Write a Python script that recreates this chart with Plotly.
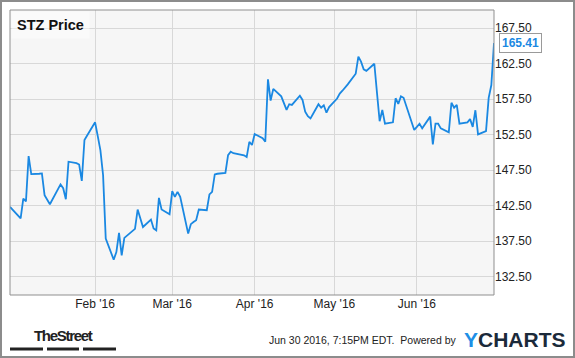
import plotly.graph_objects as go

dates = [
    "2015-12-31",
    "2016-01-04", "2016-01-05", "2016-01-06", "2016-01-07", "2016-01-08",
    "2016-01-11", "2016-01-12", "2016-01-13", "2016-01-14", "2016-01-15",
    "2016-01-19", "2016-01-20", "2016-01-21", "2016-01-22",
    "2016-01-25", "2016-01-26", "2016-01-27", "2016-01-28", "2016-01-29",
    "2016-02-01", "2016-02-02", "2016-02-03", "2016-02-04", "2016-02-05",
    "2016-02-08", "2016-02-09", "2016-02-10", "2016-02-11", "2016-02-12",
    "2016-02-16", "2016-02-17", "2016-02-18", "2016-02-19",
    "2016-02-22", "2016-02-23", "2016-02-24", "2016-02-25", "2016-02-26",
    "2016-02-29", "2016-03-01", "2016-03-02", "2016-03-03", "2016-03-04",
    "2016-03-07", "2016-03-08", "2016-03-09", "2016-03-10", "2016-03-11",
    "2016-03-14", "2016-03-15", "2016-03-16", "2016-03-17", "2016-03-18",
    "2016-03-21", "2016-03-22", "2016-03-23", "2016-03-24",
    "2016-03-28", "2016-03-29", "2016-03-30", "2016-03-31", "2016-04-01",
    "2016-04-04", "2016-04-05", "2016-04-06", "2016-04-07", "2016-04-08",
    "2016-04-11", "2016-04-12", "2016-04-13", "2016-04-14", "2016-04-15",
    "2016-04-18", "2016-04-19", "2016-04-20", "2016-04-21", "2016-04-22",
    "2016-04-25", "2016-04-26", "2016-04-27", "2016-04-28", "2016-04-29",
    "2016-05-02", "2016-05-03", "2016-05-04", "2016-05-05", "2016-05-06",
    "2016-05-09", "2016-05-10", "2016-05-11", "2016-05-12", "2016-05-13",
    "2016-05-16", "2016-05-17", "2016-05-18", "2016-05-19", "2016-05-20",
    "2016-05-23", "2016-05-24", "2016-05-25", "2016-05-26", "2016-05-27",
    "2016-05-31", "2016-06-01", "2016-06-02", "2016-06-03",
    "2016-06-06", "2016-06-07", "2016-06-08", "2016-06-09", "2016-06-10",
    "2016-06-13", "2016-06-14", "2016-06-15", "2016-06-16", "2016-06-17",
    "2016-06-20", "2016-06-21", "2016-06-22", "2016-06-23", "2016-06-24",
    "2016-06-27", "2016-06-28", "2016-06-29", "2016-06-30",
]

prices = [
    142.33,
    140.70, 143.50, 143.10, 149.50, 146.95,
    147.00, 147.05, 143.98, 143.35, 142.70,
    145.50, 144.97, 143.40, 148.70,
    148.50, 148.30, 146.00, 151.75, 152.40,
    154.25, 152.30, 150.30, 146.80, 137.86,
    134.90, 135.97, 138.66, 135.50, 137.96,
    139.23, 141.96, 140.70, 139.50,
    140.55, 139.30, 139.04, 143.60, 141.96,
    141.30, 144.55, 143.75, 144.45, 143.75,
    138.57, 139.90, 140.20, 140.45, 141.96,
    141.86, 144.10, 144.45, 146.90, 147.00,
    147.13, 149.63, 150.10, 149.90,
    149.60, 149.35, 151.50, 151.05, 152.60,
    152.00, 151.50, 160.30, 157.30, 158.95,
    157.90, 156.93, 156.00, 156.80, 156.70,
    158.00, 157.40, 155.75, 155.10, 154.80,
    156.80, 156.30, 156.65, 155.60, 156.40,
    157.60, 158.30, 158.70, 159.10, 159.60,
    161.10, 163.50, 162.80, 161.70, 161.50,
    162.50, 158.40, 154.40, 155.99, 154.05,
    154.25, 157.64, 156.83, 157.90, 157.70,
    153.17, 153.60, 154.05, 153.40,
    155.05, 151.15, 154.05, 154.05, 153.40,
    152.83, 157.00, 156.30, 156.70, 154.05,
    154.25, 154.70, 153.60, 155.95, 152.55,
    153.00, 157.70, 159.50, 165.41,
]

y_ticks = [132.5, 137.5, 142.5, 147.5, 152.5, 157.5, 162.5, 167.5]
y_tick_text = ["132.50", "137.50", "142.50", "147.50", "152.50", "157.50", "162.50", "167.50"]
x_ticks = ["2016-02-01", "2016-03-01", "2016-04-01", "2016-05-01", "2016-06-01"]
x_tick_text = ["Feb '16", "Mar '16", "Apr '16", "May '16", "Jun '16"]

title_text = "STZ Price"
last_label = "165.41"
footer_text = "Jun 30 2016, 7:15PM EDT.  Powered by"

W, H = 575, 358
L, R, T, B = 10, 81, 10, 63
PW, PH = W - L - R, H - T - B

def px(x):
    return (x - L) / PW

def py(y):
    return (H - B - y) / PH

LINE_BLUE = "#1a88e2"
FONT = "Liberation Sans, Arial, sans-serif"

fig = go.Figure()
fig.add_trace(go.Scatter(
    x=dates, y=prices, mode="lines",
    line=dict(color=LINE_BLUE, width=1.8),
    hoverinfo="skip", showlegend=False,
))

shapes = [
    # outer frame
    dict(type="rect", xref="paper", yref="paper",
         x0=px(1), x1=px(574), y0=py(357), y1=py(1),
         line=dict(color="#8c8c8c", width=2), fillcolor="rgba(0,0,0,0)", layer="above"),
    # plot area frame
    dict(type="rect", xref="paper", yref="paper", x0=0, x1=1, y0=0, y1=1,
         line=dict(color="#8f8f8f", width=1), fillcolor="rgba(0,0,0,0)", layer="above"),
]
# TheStreet bars
for a, b in [(10, 43), (47, 79), (83, 116)]:
    shapes.append(dict(type="rect", xref="paper", yref="paper",
                       x0=px(a), x1=px(b), y0=py(350.5), y1=py(347.5),
                       line=dict(width=0), fillcolor="#222222"))
# pointer of the last-value label
shapes.append(dict(type="path", xref="x", yref="y", xsizemode="pixel", ysizemode="pixel",
                   xanchor=dates[-1], yanchor=prices[-1],
                   path="M 6,-6 L 1,0 L 6,6 Z",
                   fillcolor="white", line=dict(color="#9a9a9a", width=1), layer="above"))

annotations = [
    dict(xref="paper", yref="paper", x=px(11), y=py(11), xanchor="left", yanchor="top",
         text="<b>" + title_text + "</b>", showarrow=False,
         font=dict(family=FONT, size=14.5, color="#111"),
         bgcolor="rgba(255,255,255,0.45)", borderpad=5),
    dict(xref="x", yref="y", x=dates[-1], y=prices[-1], xanchor="left", yanchor="middle",
         xshift=5, text="<b>" + last_label + "</b>", showarrow=False,
         font=dict(family=FONT, size=12, color=LINE_BLUE),
         bgcolor="white", bordercolor="#9a9a9a", borderwidth=1, borderpad=2),
    dict(xref="paper", yref="paper", x=px(63), y=py(335), xanchor="center", yanchor="middle",
         text="<b><span style='letter-spacing:-1.3px'>TheStreet</span></b>", showarrow=False,
         font=dict(family=FONT, size=15, color="#222")),
    dict(xref="paper", yref="paper", x=px(459), y=py(340), xanchor="right", yanchor="middle",
         text=footer_text, showarrow=False,
         font=dict(family=FONT, size=10.5, color="#222")),
    dict(xref="paper", yref="paper", x=px(462), y=py(339.5), xanchor="left", yanchor="middle",
         text="<b><span style='color:#1e8fe6'>Y</span>CHARTS</b>", showarrow=False,
         font=dict(family=FONT, size=21, color="#1b2a3a")),
]

fig.update_layout(
    width=W, height=H,
    margin=dict(l=L, r=R, t=T, b=B),
    paper_bgcolor="white",
    plot_bgcolor="#f6f6f6",
    showlegend=False,
    shapes=shapes,
    annotations=annotations,
    xaxis=dict(
        type="date", range=["2015-12-31", "2016-06-30"],
        tickvals=x_ticks, ticktext=x_tick_text,
        showgrid=True, gridcolor="#d8d8d8", gridwidth=1,
        zeroline=False, showline=False, ticks="",
        tickfont=dict(family=FONT, size=12, color="#222"),
        fixedrange=True,
    ),
    yaxis=dict(
        range=[129.92, 170.07], side="right",
        tickvals=y_ticks, ticktext=y_tick_text,
        showgrid=True, gridcolor="#d8d8d8", gridwidth=1,
        zeroline=False, showline=False, ticks="",
        tickfont=dict(family=FONT, size=12, color="#222"),
        fixedrange=True,
    ),
)

fig.write_html("out.html")
